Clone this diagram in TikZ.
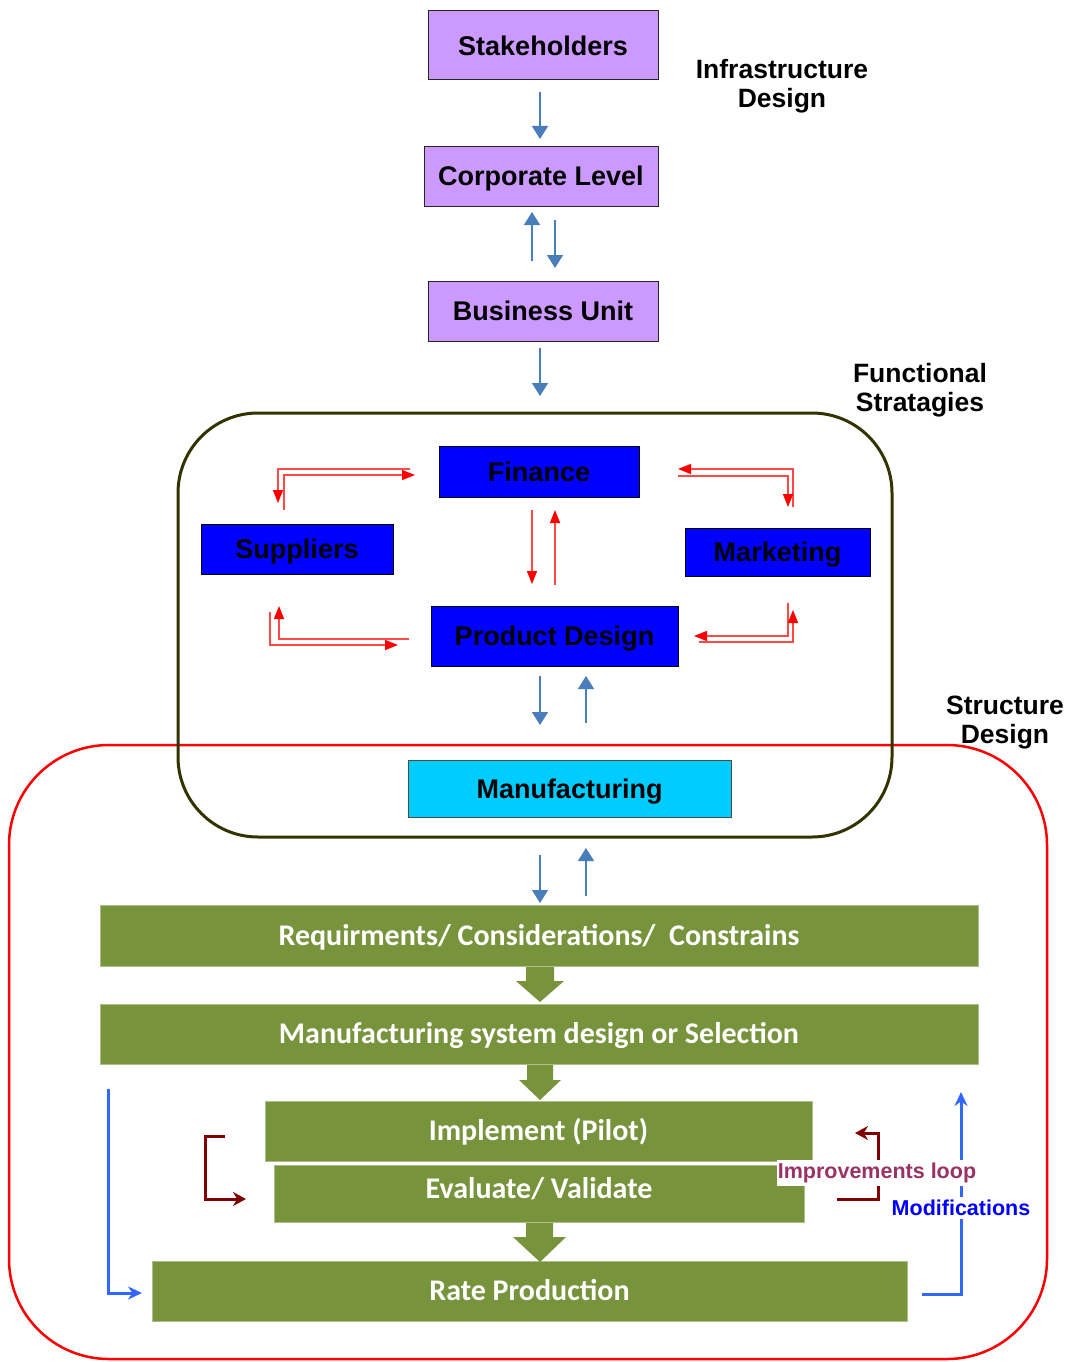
\documentclass[tikz,border=0pt]{standalone}
\usepackage{fontspec}
\setmainfont{Liberation Sans}
\newfontfamily\calfont{Carlito}
\usetikzlibrary{arrows.meta}

\definecolor{lav}{HTML}{CC99FF}
\definecolor{boxblue}{HTML}{0000FF}
\definecolor{mancyan}{HTML}{00CCFF}
\definecolor{olivegreen}{HTML}{77933C}
\definecolor{steel}{HTML}{4A7EBB}
\definecolor{pinkred}{HTML}{FF4A4A}
\definecolor{darkolive}{HTML}{333300}
\definecolor{maroon}{HTML}{7F0000}
\definecolor{loopcol}{HTML}{993366}
\definecolor{modblue}{HTML}{3366FF}

\tikzset{
  x=1pt, y=-1pt,
  lbl/.style={font=\bfseries\fontsize{27}{30}\selectfont, inner sep=0pt,
    text height=19.5pt, text depth=0pt},
  purplebox/.style={lbl, draw=black!85, line width=1pt, fill=lav},
  bluebox/.style={lbl, draw=black, line width=1pt, fill=boxblue},
  cyanbox/.style={lbl, draw=black!70, line width=1pt, fill=mancyan},
  greenbox/.style={font=\calfont\bfseries\fontsize{30}{33}\selectfont, text=white,
    fill=olivegreen, draw=olivegreen!60!white, line width=0.8pt, inner sep=0pt,
    text height=19.5pt, text depth=0pt},
  heading/.style={font=\bfseries\fontsize{26.5}{29}\selectfont, align=center},
  flow/.style={steel, line width=1.5pt, -{Triangle[width=16pt,length=13pt]}},
  redflow/.style={pinkred, line width=1.5pt, -{Triangle[width=10pt,length=13pt,color=red]}},
  loopflow/.style={maroon, line width=3pt, -{Stealth[width=14pt,length=13pt]}},
  modflow/.style={modblue, line width=3pt, -{Stealth[width=13pt,length=14pt]}},
  blockarrow/.style={fill=olivegreen, draw=none},
}

\begin{document}
\begin{tikzpicture}
\useasboundingbox (0,0) rectangle (1071,1362);

% --- grouping frames ---
\draw[red, line width=2.5pt, rounded corners=100pt] (9,745) rectangle (1047,1359);
\draw[darkolive, line width=3pt, rounded corners=80pt] (178,413) rectangle (892,837);

% --- infrastructure level ---
\node[purplebox, minimum width=230pt, minimum height=69pt] (stake) at (543,45.5) {Stakeholders};
\node[purplebox, minimum width=234pt, minimum height=60pt] (corp)  at (541,176) {Corporate Level};
\node[purplebox, minimum width=230pt, minimum height=60pt] (bu)    at (543,311) {Business Unit};

\node[heading] (infra) at (782,86) {Infrastructure\\Design};
\node[heading] (func)  at (920,390) {Functional\\Stratagies};
\node[heading] (struct) at (1005,723) {Structure\\Design};

% --- functional strategies ---
\node[bluebox, minimum width=200pt, minimum height=51pt] (fin)  at (539,471.5) {Finance};
\node[bluebox, minimum width=192pt, minimum height=50pt] (sup)  at (297,549) {Suppliers};
\node[bluebox, minimum width=185pt, minimum height=48pt] (mkt)  at (777.5,552) {Marketing};
\node[bluebox, minimum width=247pt, minimum height=60pt] (pd)   at (554.5,636) {Product Design};
\node[cyanbox, minimum width=323pt, minimum height=57pt] (man)  at (569.5,788.5) {Manufacturing};

% --- structure design steps ---
\node[greenbox, minimum width=878pt, minimum height=61pt] (req)  at (539,935.5) {Requirments/ Considerations/\ \ Constrains};
\node[greenbox, minimum width=878pt, minimum height=60pt] (msd)  at (539,1034) {Manufacturing system design or Selection};
\node[greenbox, minimum width=547pt, minimum height=60pt] (impl) at (538.5,1131) {Implement (Pilot)};
\node[greenbox, minimum width=530pt, minimum height=57pt, text depth=9pt] (eval) at (539,1193.5) {Evaluate/ Validate};
\node[greenbox, minimum width=755pt, minimum height=60pt] (rate) at (529.5,1291) {Rate Production};

% --- connector end points ---
\coordinate (s1) at (540,92);  \coordinate (s2) at (540,139);
\coordinate (c1) at (532,261); \coordinate (c2) at (532,212);
\coordinate (c3) at (555,220); \coordinate (c4) at (555,268);
\coordinate (b1) at (540,348); \coordinate (b2) at (540,396);
\coordinate (f1) at (532,510); \coordinate (f2) at (532,584);
\coordinate (f3) at (555,585); \coordinate (f4) at (555,510);
\coordinate (p1) at (540,676); \coordinate (p2) at (540,725);
\coordinate (p3) at (586,723); \coordinate (p4) at (586,676);
\coordinate (m1) at (540,855); \coordinate (m2) at (540,903);
\coordinate (m3) at (586,896); \coordinate (m4) at (586,848);

% --- blue vertical connectors ---
\draw[flow] (s1) -- (s2);
\draw[flow] (c1) -- (c2);
\draw[flow] (c3) -- (c4);
\draw[flow] (b1) -- (b2);
\draw[flow] (p1) -- (p2);
\draw[flow] (p3) -- (p4);
\draw[flow] (m1) -- (m2);
\draw[flow] (m3) -- (m4);

% --- red two-way links between functions ---
\draw[redflow] (f1) -- (f2);
\draw[redflow] (f3) -- (f4);

\coordinate (sf1) at (410,469); \coordinate (sf2) at (278,503);
\coordinate (sf3) at (284,510); \coordinate (sf4) at (415,475);
\draw[redflow] (sf1) -| (sf2);
\draw[redflow] (sf3) |- (sf4);

\coordinate (sp1) at (270,612); \coordinate (sp2) at (398,645);
\coordinate (sp3) at (409,639); \coordinate (sp4) at (279,606);
\draw[redflow] (sp1) |- (sp2);
\draw[redflow] (sp3) -| (sp4);

\coordinate (fm1) at (793,507); \coordinate (fm2) at (678,469);
\coordinate (fm3) at (678,476); \coordinate (fm4) at (788,507);
\draw[redflow] (fm1) |- (fm2);
\draw[redflow] (fm3) -| (fm4);

\coordinate (mp1) at (788,603); \coordinate (mp2) at (694,636);
\coordinate (mp3) at (699,642); \coordinate (mp4) at (793,610);
\draw[redflow] (mp1) |- (mp2);
\draw[redflow] (mp3) -| (mp4);

% --- block arrows between steps ---
\draw[blockarrow] (526,967) -- (554,967) -- (554,981) -- (564,981) -- (540,1002)
  -- (516,981) -- (526,981) -- cycle;
\draw[blockarrow] (527,1065) -- (553,1065) -- (553,1080) -- (561,1080) -- (540,1100)
  -- (519,1080) -- (527,1080) -- cycle;
\draw[blockarrow] (526,1223) -- (553,1223) -- (553,1237) -- (566,1237) -- (540,1262)
  -- (513,1237) -- (526,1237) -- cycle;

% --- improvement loop brackets ---
\coordinate (l1) at (225,1136); \coordinate (l2) at (205,1199); \coordinate (l3) at (246,1199);
\draw[loopflow] (l1) -- (l2 |- l1) -- (l2) -- (l3);
\coordinate (r1) at (837,1199); \coordinate (r2) at (878,1133); \coordinate (r3) at (855,1133);
\draw[loopflow] (r1) -| (r2) -- (r3);

% --- modification loop ---
\coordinate (ml1) at (108,1089); \coordinate (ml2) at (142,1293);
\draw[modflow] (ml1) |- (ml2);
\coordinate (mr1) at (922,1294); \coordinate (mr2) at (961,1092);
\draw[modflow] (mr1) -| (mr2);

\node[fill=white, text=loopcol, font=\bfseries\fontsize{21.5}{23}\selectfont, inner xsep=1pt, inner ysep=3pt] (imp) at (877,1173) {Improvements loop};
\node[fill=white, text=boxblue, font=\bfseries\fontsize{21.5}{23}\selectfont, inner xsep=1pt, inner ysep=3pt] (mod) at (961,1208) {Modifications};
\end{tikzpicture}
\end{document}
